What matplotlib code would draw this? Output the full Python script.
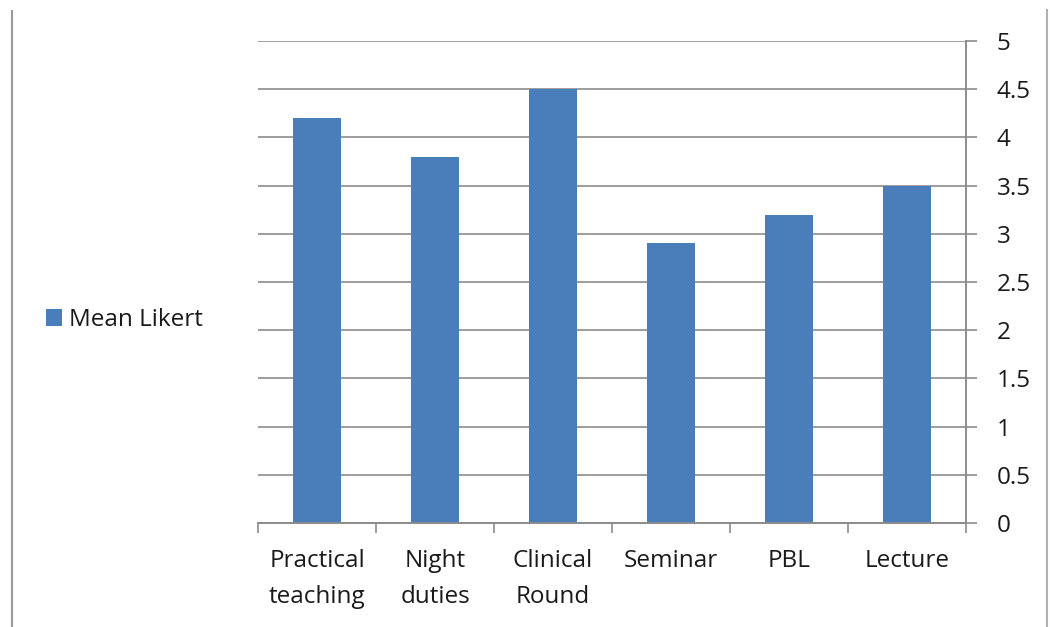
import matplotlib
matplotlib.use("Agg")
import matplotlib.pyplot as plt
from matplotlib.lines import Line2D
from matplotlib.patches import Patch
import numpy as np

categories = ["Practical\nteaching", "Night\nduties", "Clinical\nRound", "Seminar", "PBL", "Lecture"]
values = [4.2, 3.8, 4.5, 2.9, 3.2, 3.5]
yticks = [0, 0.5, 1, 1.5, 2, 2.5, 3, 3.5, 4, 4.5, 5]
ytick_labels = ["0", "0.5", "1", "1.5", "2", "2.5", "3", "3.5", "4", "4.5", "5"]
series_name = "Mean Likert"

plt.rcParams['font.family'] = ['Open Sans', 'DejaVu Sans']
bar_color = "#4a7ebb"
grid_color = "#8c8c8c"
text_color = "#1a1a1a"
fs = 17.5

fig = plt.figure(figsize=(10.5, 6.27), dpi=100)
ax = fig.add_axes([258/1050, 1-523/627, (966-258)/1050, (523-41)/627])

x = np.arange(len(categories))
ax.bar(x, values, width=0.41, color=bar_color, zorder=3)
ax.set_xlim(-0.5, len(categories)-0.5)
ax.set_ylim(0, 5)

ax.yaxis.tick_right()
ax.set_yticks(yticks)
ax.set_yticklabels(ytick_labels)
ax.tick_params(axis='y', direction='out', length=8, width=1.2, color=grid_color,
               labelsize=fs, labelcolor=text_color, pad=14)
ax.grid(axis='y', color=grid_color, linewidth=1.2, zorder=0)

ax.set_xticks(x)
ax.set_xticklabels(categories)
ax.tick_params(axis='x', length=0, labelsize=fs, labelcolor=text_color, pad=19)
ax.set_xticks(np.arange(-0.5, len(categories)), minor=True)
ax.tick_params(axis='x', which='minor', direction='out', length=7, width=1.2, color=grid_color)
for lbl in ax.get_xticklabels():
    lbl.set_linespacing(1.62)

for s in ['top', 'left']:
    ax.spines[s].set_visible(False)
ax.spines['bottom'].set_color(grid_color)
ax.spines['bottom'].set_linewidth(1.4)
ax.spines['right'].set_color(grid_color)
ax.spines['right'].set_linewidth(1.4)
ax.spines['bottom'].set_zorder(4)

handle = Patch(facecolor=bar_color, edgecolor='none')
fig.legend([handle], [series_name], loc='center left', bbox_to_anchor=(24/1050, 1-320/627),
           frameon=False, fontsize=fs, handlelength=0.65, handleheight=0.65, handletextpad=0.3,
           labelcolor=text_color)

fig.add_artist(Line2D([12/1050, 12/1050], [0, 1-11/627], color="#9a9a9a", linewidth=1.5))
fig.add_artist(Line2D([1047/1050, 1047/1050], [0, 1-10/627], color="#b0b0b0", linewidth=1.5))

fig.savefig("out.png", dpi=100)
